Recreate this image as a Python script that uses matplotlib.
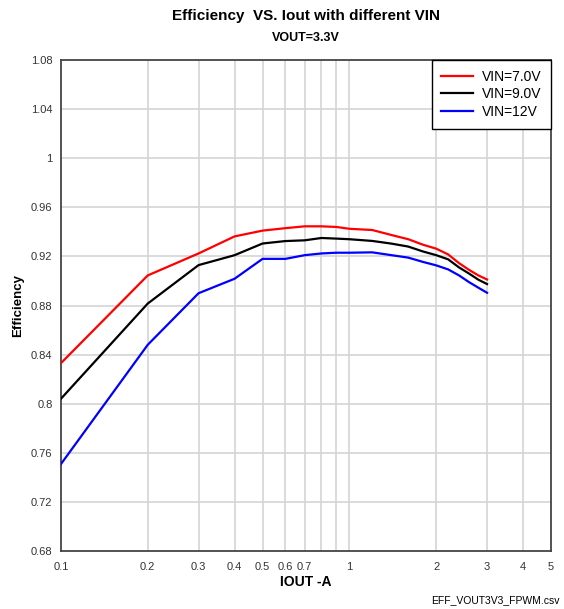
import matplotlib
matplotlib.use("Agg")
import matplotlib.pyplot as plt
from matplotlib.ticker import FixedLocator, NullFormatter

plt.rcParams['font.family'] = ['Liberation Sans', 'DejaVu Sans']

# output current (A)
iout = [0.1, 0.2, 0.3, 0.4, 0.5, 0.6, 0.7, 0.8, 0.9, 1.0,
        1.2, 1.4, 1.6, 1.8, 2.0, 2.2, 2.4, 2.6, 2.8, 3.0]
eff_7v = [0.833, 0.9045, 0.9224, 0.9363, 0.941, 0.943, 0.9445, 0.9445, 0.944, 0.9425,
          0.9415, 0.9374, 0.934, 0.9295, 0.9263, 0.9216, 0.9145, 0.909, 0.9045, 0.9012]
eff_9v = [0.804, 0.8816, 0.9129, 0.921, 0.9305, 0.9325, 0.9331, 0.935, 0.9345, 0.934,
          0.9326, 0.9304, 0.928, 0.924, 0.921, 0.9176, 0.911, 0.906, 0.901, 0.8975]
eff_12v = [0.7508, 0.848, 0.890, 0.9018, 0.918, 0.918, 0.921, 0.9224, 0.923, 0.923,
           0.9233, 0.921, 0.919, 0.9155, 0.9127, 0.9094, 0.9045, 0.899, 0.8945, 0.8904]
series_names = ["VIN=7.0V", "VIN=9.0V", "VIN=12V"]
series_colors = ["#ff0000", "#000000", "#0000ff"]

x_ticks = [0.1, 0.2, 0.3, 0.4, 0.5, 0.6, 0.7, 1, 2, 3, 4, 5]
x_ticklabels = ["0.1", "0.2", "0.3", "0.4", "0.5", "0.6", "0.7", "1", "2", "3", "4", "5"]
x_grid = [0.2, 0.3, 0.4, 0.5, 0.6, 0.7, 0.8, 0.9, 1, 2, 3, 4]
y_ticks = [0.68, 0.72, 0.76, 0.8, 0.84, 0.88, 0.92, 0.96, 1.0, 1.04, 1.08]
y_ticklabels = ["0.68", "0.72", "0.76", "0.8", "0.84", "0.88", "0.92", "0.96", "1", "1.04", "1.08"]

fig = plt.figure(figsize=(5.64, 6.09), dpi=100)
ax = fig.add_axes([0.108, 0.0952, 0.869, 0.8063])

for ys, name, col in zip([eff_7v, eff_9v, eff_12v], series_names, series_colors):
    ax.plot(iout, ys, color=col, lw=1.6, label=name, zorder=3)

ax.set_xscale('log')
ax.set_xlim(0.1, 5)
ax.set_ylim(0.68, 1.08)

ax.xaxis.set_major_locator(FixedLocator(x_ticks))
ax.xaxis.set_minor_locator(FixedLocator([]))
ax.set_xticklabels(x_ticklabels)
ax.xaxis.set_minor_formatter(NullFormatter())
ax.set_yticks(y_ticks)
ax.set_yticklabels(y_ticklabels)
ax.tick_params(length=0, labelsize=8, colors='#333333')
ax.tick_params(axis='x', pad=8)
ax.tick_params(axis='y', pad=6)

for xv in x_grid:
    ax.axvline(xv, color='#d4d4d4', lw=1.2, zorder=1)
for yv in y_ticks[1:-1]:
    ax.axhline(yv, color='#d4d4d4', lw=1.2, zorder=1)

for s in ax.spines.values():
    s.set_color('#444444')
    s.set_linewidth(1.3)

ax.set_xlabel("IOUT -A", fontsize=10, fontweight='bold', labelpad=2)
ax.set_ylabel("Efficiency", fontsize=9.5, fontweight='bold', labelpad=5)

leg = ax.legend(loc='upper right', borderaxespad=0, fancybox=False, fontsize=10,
                edgecolor='black', framealpha=1, handlelength=2.3, handletextpad=0.6,
                labelspacing=0.26, borderpad=0.7)
leg.get_frame().set_linewidth(1.0)

fig.text(0.542, 0.974, "Efficiency  VS. Iout with different VIN", ha='center', va='center',
         fontsize=11, fontweight='bold')
fig.text(0.542, 0.937, "VOUT=3.3V", ha='center', va='center', fontsize=9, fontweight='bold')
fig.text(0.993, 0.015, "EFF_VOUT3V3_FPWM.csv", ha='right', va='center', fontsize=7.5)

fig.savefig("out.png", dpi=100)
